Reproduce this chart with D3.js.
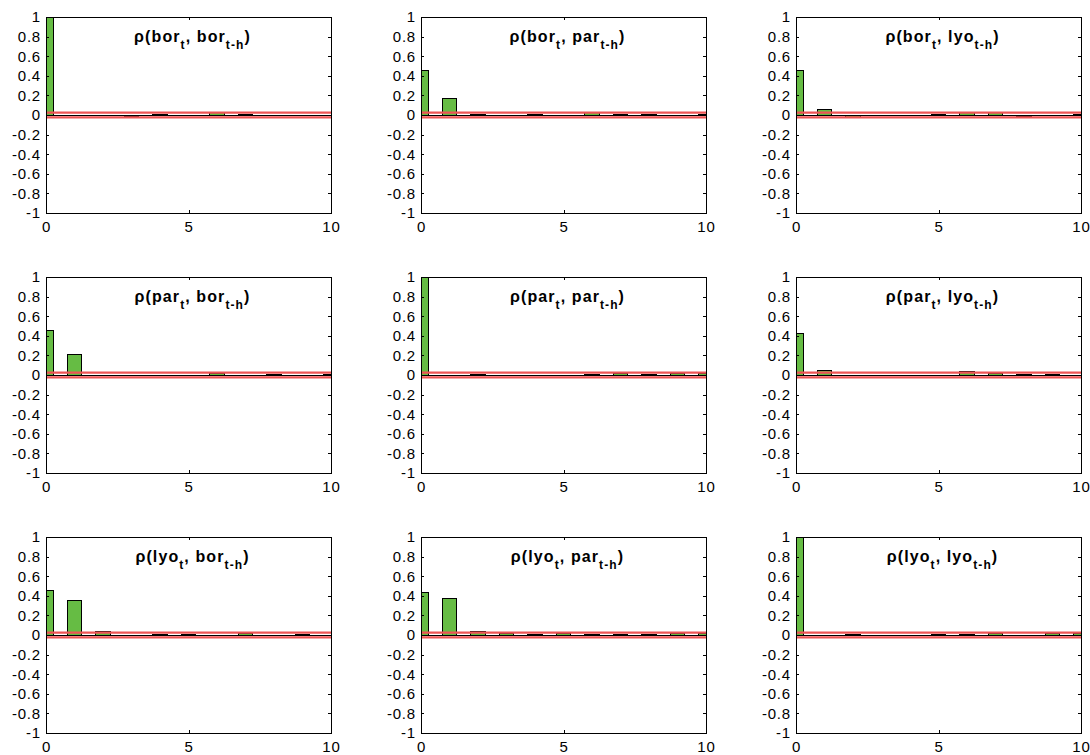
<!DOCTYPE html>
<html><head><meta charset="utf-8">
<script src="https://cdn.jsdelivr.net/npm/d3@7"></script>
<style>
html,body{margin:0;padding:0;background:#fff;}
text{font-family:"Liberation Sans",Arial,Helvetica,sans-serif;}
</style></head>
<body>
<svg id="chart" width="1090" height="755"></svg>
<script>
// ---- data ----
const lags = [0,1,2,3,4,5,6,7,8,9,10];
const xTicks = [0,5,10];
const yTicks = [-1,-0.8,-0.6,-0.4,-0.2,0,0.2,0.4,0.6,0.8,1];
const leadVars = ["bor","bor","bor","par","par","par","lyo","lyo","lyo"];
const lagVars  = ["bor","par","lyo","bor","par","lyo","bor","par","lyo"];
const confBand = 0.025;

const acf_bor_bor = [1.00, 0.00, 0.00, -0.015, 0.010, 0.000, 0.025, 0.010, 0.000, 0.000, -0.010];
const acf_bor_par = [0.45, 0.17, 0.010, 0.000, 0.010, 0.000, 0.025, 0.010, 0.010, 0.000, 0.010];
const acf_bor_lyo = [0.45, 0.055, -0.025, 0.000, 0.000, 0.010, 0.025, 0.025, -0.012, 0.000, 0.010];
const acf_par_bor = [0.45, 0.21, 0.000, 0.000, 0.000, 0.000, 0.020, -0.010, 0.010, 0.000, 0.010];
const acf_par_par = [1.00, 0.00, 0.010, 0.000, 0.000, 0.000, 0.010, 0.020, 0.010, 0.020, 0.020];
const acf_par_lyo = [0.42, 0.05, 0.000, 0.000, 0.000, 0.000, 0.035, 0.020, 0.010, 0.010, 0.000];
const acf_lyo_bor = [0.45, 0.35, 0.035, 0.000, 0.010, 0.010, 0.000, 0.020, 0.000, 0.010, 0.000];
const acf_lyo_par = [0.43, 0.37, 0.035, 0.020, 0.010, 0.020, 0.010, 0.010, 0.010, 0.020, 0.020];
const acf_lyo_lyo = [1.00, 0.00, 0.010, 0.000, 0.000, 0.010, 0.010, 0.020, 0.000, 0.020, 0.020];

const series = [acf_bor_bor, acf_bor_par, acf_bor_lyo,
                acf_par_bor, acf_par_par, acf_par_lyo,
                acf_lyo_bor, acf_lyo_par, acf_lyo_lyo];

// ---- layout ----
const colLeft = [46, 421, 796];
const rowTop = [17, 277, 537];
const pw = 285, ph = 196;
const barColor = "#66bc44";

const svg = d3.select("#chart");
const defs = svg.append("defs");

series.forEach((vals, i) => {
  const r = Math.floor(i / 3), c = i % 3;
  const x0 = colLeft[c], y0 = rowTop[r];
  const x = d3.scaleLinear().domain([0, 10]).range([0, pw]);
  const y = d3.scaleLinear().domain([-1, 1]).range([ph, 0]);
  const g = svg.append("g").attr("transform", `translate(${x0},${y0})`);

  defs.append("clipPath").attr("id", "clip" + i)
    .append("rect").attr("x", 0).attr("y", 0).attr("width", pw).attr("height", ph);

  const plot = g.append("g").attr("clip-path", `url(#clip${i})`);
  const bw = x(0.5) - x(0);
  plot.selectAll("rect.bar").data(lags.map((l, k) => ({l, v: vals[k]})))
    .enter().append("rect").attr("class", "bar")
    .attr("x", d => x(d.l) - bw / 2)
    .attr("width", bw)
    .attr("y", d => y(Math.max(0, d.v)))
    .attr("height", d => Math.abs(y(d.v) - y(0)))
    .attr("fill", barColor)
    .attr("stroke", "#000")
    .attr("stroke-width", 1)
    .attr("shape-rendering", "crispEdges");

  // baseline
  plot.append("line").attr("x1", 0).attr("x2", pw)
    .attr("y1", y(0)).attr("y2", y(0))
    .attr("stroke", "#000").attr("stroke-width", 1).attr("shape-rendering", "crispEdges");

  // confidence band lines
  [confBand, -confBand].forEach(b => {
    plot.append("line").attr("x1", 0).attr("x2", pw)
      .attr("y1", y(b)).attr("y2", y(b))
      .attr("stroke", "#ee5555").attr("stroke-width", 2.2);
  });

  // axes (ticks inside, MATLAB style)
  const tl = 3;
  const ax = g.append("g");
  ax.append("g").attr("transform", `translate(0,${ph})`)
    .call(d3.axisBottom(x).tickValues(xTicks).tickSize(-tl).tickPadding(8).tickFormat(d3.format("d")));
  ax.append("g").call(d3.axisTop(x).tickValues(xTicks).tickSize(-tl).tickFormat(""));
  ax.append("g")
    .call(d3.axisLeft(y).tickValues(yTicks).tickSize(-tl).tickPadding(5)
      .tickFormat(d => d === 0 ? "0" : (d === 1 ? "1" : (d === -1 ? "-1" : d3.format(".1f")(d).replace("−","-")))));
  ax.append("g").attr("transform", `translate(${pw},0)`)
    .call(d3.axisRight(y).tickValues(yTicks).tickSize(-tl).tickFormat(""));
  ax.selectAll(".domain").remove();
  ax.selectAll("line").attr("stroke", "#000").attr("shape-rendering", "crispEdges");
  ax.selectAll("text").attr("fill", "#000").attr("font-size", 15)
    .attr("font-family", "'Liberation Sans',Arial,sans-serif").style("letter-spacing", "0.8px");

  // box
  g.append("rect").attr("x", 0).attr("y", 0).attr("width", pw).attr("height", ph)
    .attr("fill", "none").attr("stroke", "#000").attr("stroke-width", 1)
    .attr("shape-rendering", "crispEdges");

  // title
  const t = g.append("text").attr("x", pw / 2 + 4).attr("y", 25)
    .attr("text-anchor", "middle").attr("font-weight", "bold").attr("font-size", 16)
    .style("letter-spacing", "1.1px").attr("fill", "#000");
  t.append("tspan").text("\u03C1(" + leadVars[i]);
  t.append("tspan").attr("dy", 7).attr("font-size", 12).text("t");
  t.append("tspan").attr("dy", -7).text(", " + lagVars[i]);
  t.append("tspan").attr("dy", 7).attr("font-size", 12).text("t-h");
  t.append("tspan").attr("dy", -7).text(")");
});
</script>
</body></html>
